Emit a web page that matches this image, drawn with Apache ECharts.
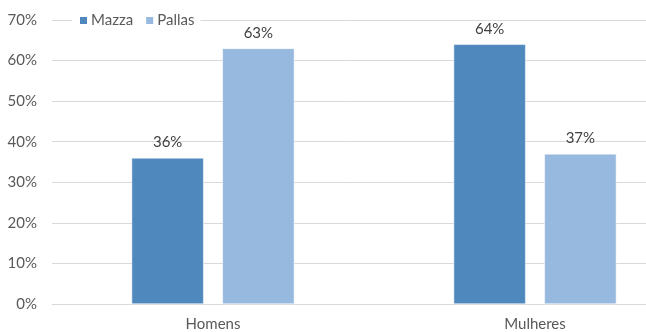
<!DOCTYPE html>
<html>
<head>
<meta charset="utf-8">
<script src="https://cdn.jsdelivr.net/npm/echarts@6/dist/echarts.min.js"></script>
<style>
  html, body { margin: 0; padding: 0; background: #fff; }
  #chart { width: 646px; height: 332px; }
</style>
</head>
<body>
<div id="chart"></div>
<script>
// Share of each group (percent)
const categories = ['Homens', 'Mulheres'];
const seriesNames = ['Mazza', 'Pallas'];
const mazzaValues = [36, 64];
const pallasValues = [63, 37];
const yTicks = [0, 10, 20, 30, 40, 50, 60, 70];

const FONT = 'Lato, "Open Sans", sans-serif';
const chart = echarts.init(document.getElementById('chart'), null, { renderer: 'canvas' });

const labelStyle = {
  show: true,
  position: 'top',
  distance: 8,
  formatter: '{c}%',
  color: '#404040',
  fontFamily: FONT,
  fontSize: 15
};

chart.setOption({
  animation: false,
  // plot area runs past the right edge of the canvas
  grid: { left: 52, top: 20, bottom: 28, right: -50, containLabel: false, outerBoundsMode: 'none' },
  legend: {
    data: seriesNames,
    left: 72,
    top: 11,
    itemWidth: 9,
    itemHeight: 9,
    itemGap: 11,
    padding: [2, 6, 2, 6],
    backgroundColor: '#fff',
    textStyle: { color: '#595959', fontFamily: FONT, fontSize: 15, padding: [0, 0, 0, -2] },
    icon: 'rect'
  },
  xAxis: {
    type: 'category',
    data: categories,
    axisLine: { show: true, lineStyle: { color: '#d9d9d9', width: 1 } },
    axisTick: { show: false },
    axisLabel: { color: '#595959', fontFamily: FONT, fontSize: 15, margin: 13 }
  },
  yAxis: {
    type: 'value',
    min: yTicks[0],
    max: yTicks[yTicks.length - 1],
    interval: 10,
    axisLine: { show: false },
    axisTick: { show: false },
    axisLabel: { formatter: '{value}%', color: '#595959', fontFamily: FONT, fontSize: 15, margin: 15 },
    splitLine: { lineStyle: { color: '#d9d9d9', width: 1 } }
  },
  series: [
    {
      name: seriesNames[0],
      type: 'bar',
      data: mazzaValues,
      barWidth: 72,
      barGap: '26%',
      itemStyle: { color: '#4f88bd', borderColor: '#ffffff', borderWidth: 0.5 },
      label: labelStyle
    },
    {
      name: seriesNames[1],
      type: 'bar',
      data: pallasValues,
      barWidth: 72,
      itemStyle: { color: '#98b9df', borderColor: '#ffffff', borderWidth: 0.5 },
      label: labelStyle
    }
  ]
});
</script>
</body>
</html>
